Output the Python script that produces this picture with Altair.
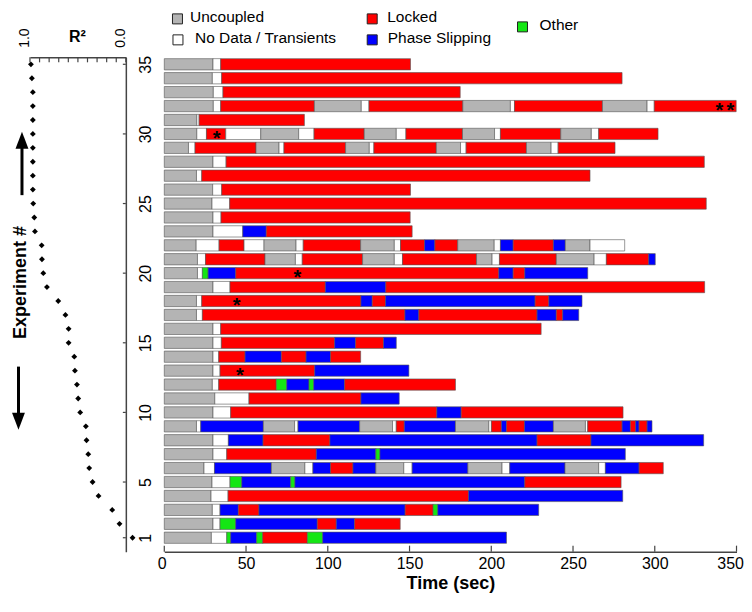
import altair as alt
import pandas as pd

# ---------------- data ----------------
experiments = list(range(1, 36))

r_squared = [-0.07, 0.066, 0.142, 0.285, 0.347, 0.382, 0.392, 0.41, 0.417, 0.476,
             0.497, 0.51, 0.531, 0.538, 0.597, 0.597, 0.63, 0.705, 0.823, 0.861,
             0.875, 0.878, 0.948, 0.955, 0.966, 0.97, 0.97, 0.97, 0.97, 0.97,
             0.97, 0.97, 0.97, 0.98, 0.99]

# state codes per experiment (1..35): U uncoupled, N no data, L locked, P phase slipping, O other
seg_states = [
    "UNOPOLOP",
    "UNOPLPL",
    "UNPLPLOP",
    "UNLP",
    "UNOPOPL",
    "UNPUNPLPUNPUNPUNPL",
    "UNLPOP",
    "UNPLPLP",
    "UNPUNPUNLPUNLPLPUNLPLPLP",
    "UNLPL",
    "UNLP",
    "UNLOPOPL",
    "UNLP",
    "UNLPLPL",
    "UNLPLP",
    "UNL",
    "UNLPLPLP",
    "UNLPLPLP",
    "UNLPL",
    "UNOPLPLP",
    "UNLUNLUNLUNLUNLP",
    "UNLNUNLUNLPLUNPLPUN",
    "UNPL",
    "UNL",
    "UNL",
    "UNL",
    "UNL",
    "UNL",
    "UNLUNLUNLUNLUNL",
    "UNLNUNLUNLUNLUNL",
    "UNL",
    "UNLUNLUNLUNL",
    "UNL",
    "UNL",
    "UNL",
]

# end time (sec) of each segment; each segment starts where the previous ended (first at 0)
seg_ends = [
    [28.8, 38.2, 40.6, 56.5, 60.2, 87.5, 96.9, 209.3],
    [29.8, 34.1, 43.7, 93.6, 105.2, 116.4, 144.3],
    [29.4, 34.1, 45.3, 57.9, 147.3, 164.4, 167.3, 229.0],
    [28.6, 39.0, 186.1, 280.4],
    [29.2, 40.2, 47.4, 77.3, 79.9, 220.5, 279.4],
    [24.3, 30.7, 65.5, 86.0, 90.9, 101.7, 115.4, 129.4, 146.5, 151.6, 185.7, 206.6,
     211.3, 245.1, 265.7, 269.8, 290.4, 305.2],
    [29.8, 38.2, 93.0, 129.4, 131.9, 282.0],
    [29.8, 39.2, 60.4, 101.3, 228.0, 261.0, 329.9],
    [19.7, 22.3, 60.6, 79.7, 81.8, 119.5, 139.6, 141.9, 146.8, 178.1, 198.5, 200.1,
     206.2, 209.3, 220.3, 238.0, 257.6, 259.0, 280.0, 285.1, 288.3, 290.4, 295.3, 298.3],
    [29.8, 40.6, 166.7, 181.6, 280.6],
    [30.9, 51.8, 120.3, 143.7],
    [29.4, 33.3, 68.5, 74.9, 88.5, 91.4, 110.3, 178.1],
    [29.8, 34.1, 92.0, 149.6],
    [29.8, 33.3, 49.4, 71.6, 86.7, 101.7, 120.1],
    [29.8, 34.9, 104.2, 117.0, 134.1, 141.9],
    [29.8, 34.5, 230.5],
    [19.7, 23.3, 147.2, 155.7, 228.0, 239.8, 243.7, 253.5],
    [19.7, 22.9, 120.3, 127.2, 135.3, 226.8, 235.2, 255.5],
    [29.8, 40.2, 98.5, 135.5, 330.5],
    [20.3, 23.3, 26.8, 43.7, 204.6, 213.4, 220.5, 259.0],
    [20.3, 25.2, 61.6, 80.2, 84.4, 121.3, 140.7, 145.7, 191.0, 200.5, 205.0, 239.8,
     262.9, 270.4, 296.3, 300.3],
    [19.5, 33.5, 48.8, 61.0, 80.6, 85.0, 120.1, 140.7, 144.5, 159.2, 165.5, 179.5,
     201.8, 205.6, 213.4, 238.0, 245.3, 260.4, 281.6],
    [29.8, 48.0, 62.4, 151.6],
    [29.8, 34.7, 150.4],
    [29.2, 40.0, 331.5],
    [29.6, 35.1, 150.6],
    [19.7, 22.9, 260.4],
    [29.8, 37.8, 330.3],
    [14.8, 18.8, 56.1, 70.2, 73.2, 110.9, 125.4, 128.2, 166.4, 181.2, 184.6, 221.5,
     236.6, 240.9, 275.7],
    [19.9, 25.8, 37.6, 59.0, 82.2, 91.6, 122.3, 141.9, 147.8, 182.4, 202.0, 205.6,
     242.5, 261.2, 265.7, 302.0],
    [19.9, 21.3, 85.7],
    [30.0, 34.5, 91.8, 120.5, 125.2, 182.6, 211.7, 214.2, 268.0, 295.3, 299.7, 349.8],
    [30.0, 35.9, 181.0],
    [29.4, 35.1, 280.0],
    [29.8, 34.5, 150.6],
]

star_exp = [32, 32, 30, 20, 18, 13]
star_time = [339.6, 346.2, 32.0, 81.4, 44.3, 46.3]

state_codes = ["U", "N", "L", "P", "O"]
state_names = ["Uncoupled", "No Data / Transients", "Locked", "Phase Slipping", "Other"]
state_colors = ["#b4b4b4", "#ffffff", "#ff0000", "#0000ff", "#14e614"]

time_ticks = [0, 50, 100, 150, 200, 250, 300, 350]
exp_ticks = [1, 5, 10, 15, 20, 25, 30, 35]
r2_ticks = [0.0, 0.1, 0.2, 0.3, 0.4, 0.5, 0.6, 0.7, 0.8, 0.9, 1.0]

# ---------------- layout (pixels) ----------------
LW, RW, H, GAP = 96, 573, 495, 38.5
FONT = "Liberation Sans"
legend_sq_x = [13.2, 13.7, 208.2, 208.2, 358.7]
legend_sq_y = [-38.5, -17.5, -38.5, -17.5, -30.5]
legend_tx_x = [25.8, 30.8, 223.2, 223.8, 375.8]
legend_tx_y = [-35.0, -14.0, -35.0, -14.0, -27.0]

# ---------------- tables ----------------
rows = []
for exp, states, ends in zip(experiments, seg_states, seg_ends):
    start = 0.0
    for s, e in zip(states, ends):
        rows.append({"exp": exp, "state": s, "start": start, "end": e})
        start = e
seg_df = pd.DataFrame(rows)

r2_df = pd.DataFrame({"exp": experiments, "r2": r_squared})
star_df = pd.DataFrame({"exp": star_exp, "start": star_time})
tt_df = pd.DataFrame({"start": time_ticks})
et_df = pd.DataFrame({"exp": exp_ticks})
rt_df = pd.DataFrame({"r2": r2_ticks})
leg_df = pd.DataFrame({"state": state_codes, "name": state_names,
                       "sx": legend_sq_x, "sy": legend_sq_y,
                       "tx": legend_tx_x, "ty": legend_tx_y})
one = pd.DataFrame({"a": [0]})

color_scale = alt.Scale(domain=state_codes, range=state_colors)

# ---------------- left panel (R^2) ----------------
left_x = alt.X("r2:Q",
               scale=alt.Scale(domain=[0, 1], reverse=True, nice=False, zero=False),
               axis=alt.Axis(orient="top", values=[1, 0], format=".1f",
                             labelAngle=270, labelAlign="left", labelBaseline="middle",
                             labelPadding=10, labelOffset=-5, labelFontSize=14,
                             ticks=False, tickSize=0, grid=False, title=None,
                             domainColor="#444444", domainWidth=1.5))
left_y = alt.Y("exp:Q",
               scale=alt.Scale(domain=[0, 35.5], nice=False, zero=False),
               axis=alt.Axis(orient="right", values=exp_ticks,
                             labelAngle=270, labelAlign="center", labelBaseline="top",
                             labelPadding=12, labelFontSize=16,
                             ticks=False, tickSize=0, grid=False, title=None,
                             domainColor="#444444", domainWidth=1.5))

pts = alt.Chart(r2_df).mark_point(shape="diamond", filled=True, size=34,
                                   color="black", opacity=1).encode(x=left_x, y=left_y)
top_ticks = alt.Chart(rt_df).mark_rule(color="#444444", strokeWidth=1.2).encode(
    x=left_x, y=alt.value(0), y2=alt.value(5))
side_ticks = alt.Chart(et_df).mark_rule(color="#444444", strokeWidth=1.2).encode(
    y=left_y, x=alt.value(LW - 3), x2=alt.value(LW))
r2_title = alt.Chart(one).mark_text(text="R²", font=FONT, fontSize=16, fontWeight="bold",
                                    align="center", baseline="alphabetic", color="black").encode(
    x=alt.value(47.5), y=alt.value(-15))
exp_title = alt.Chart(one).mark_text(text="Experiment #", font=FONT, fontSize=18,
                                     fontWeight="bold", angle=270, align="center",
                                     baseline="middle", color="black").encode(
    x=alt.value(-9.4), y=alt.value(225.5))
up_shaft = alt.Chart(one).mark_rule(color="black", strokeWidth=3).encode(
    x=alt.value(-8), y=alt.value(90), y2=alt.value(138))
up_head = alt.Chart(one).mark_point(shape="M0,-1L0.76,1L-0.76,1Z", filled=True, size=289,
                                    color="black", opacity=1).encode(
    x=alt.value(-8), y=alt.value(83))
dn_shaft = alt.Chart(one).mark_rule(color="black", strokeWidth=3).encode(
    x=alt.value(-11.5), y=alt.value(309.7), y2=alt.value(358))
dn_head = alt.Chart(one).mark_point(shape="M0,1L0.76,-1L-0.76,-1Z", filled=True, size=289,
                                    color="black", opacity=1).encode(
    x=alt.value(-11.5), y=alt.value(364.5))

left = alt.layer(pts, top_ticks, side_ticks, r2_title, exp_title,
                 up_shaft, up_head, dn_shaft, dn_head).properties(width=LW, height=H)

# ---------------- right panel (timelines) ----------------
right_x = alt.X("start:Q",
                scale=alt.Scale(domain=[0, 350], nice=False, zero=False),
                axis=alt.Axis(orient="bottom", values=time_ticks, labelFontSize=16,
                              labelPadding=4, labelFlush=True, labelFlushOffset=7,
                              title="Time (sec)", titleFontSize=18, titleFontWeight="bold",
                              titlePadding=3, ticks=False, tickSize=0, grid=False,
                              domainColor="#444444", domainWidth=1.5))
right_y = alt.Y("y_lo:Q", scale=alt.Scale(domain=[0, 35.5], nice=False, zero=False), axis=None)

bars = alt.Chart(seg_df).transform_calculate(
    y_lo="datum.exp - 0.405", y_hi="datum.exp + 0.405"
).mark_rect(stroke="#555555", strokeWidth=0.6).encode(
    x=right_x, x2="end:Q",
    y=right_y, y2="y_hi:Q",
    fill=alt.Fill("state:N", scale=color_scale, legend=None))

stars = alt.Chart(star_df).transform_calculate(y_lo="datum.exp").mark_text(
    text="*", font=FONT, fontSize=20, fontWeight="bold",
    align="center", baseline="alphabetic", dy=11, color="black").encode(
    x=right_x, y=right_y)

x_ticks = alt.Chart(tt_df).mark_rule(color="#444444", strokeWidth=1.2).encode(
    x=right_x, y=alt.value(H - 6), y2=alt.value(H))

leg_sq = alt.Chart(leg_df).mark_point(shape="square", filled=True, size=100,
                                      stroke="#222222", strokeWidth=1, opacity=1).encode(
    x=alt.X("sx:Q", scale=None),
    y=alt.Y("sy:Q", scale=None),
    fill=alt.Fill("state:N", scale=color_scale, legend=None))
leg_tx = alt.Chart(leg_df).mark_text(font=FONT, fontSize=15.5, align="left",
                                     baseline="alphabetic", color="black").encode(
    x=alt.X("tx:Q", scale=None),
    y=alt.Y("ty:Q", scale=None),
    text="name:N")

right = alt.layer(bars, stars, x_ticks, leg_sq, leg_tx).properties(width=RW, height=H)

chart = alt.hconcat(left, right, spacing=GAP, bounds="flush").properties(
    padding={"left": 3, "top": 2, "right": 0, "bottom": 0}
).configure_view(stroke=None).configure_axis(
    labelFont=FONT, titleFont=FONT, labelColor="black", titleColor="black"
).configure_text(font=FONT)

chart.save("out.html", embed_options={"renderer": "svg", "actions": False})
